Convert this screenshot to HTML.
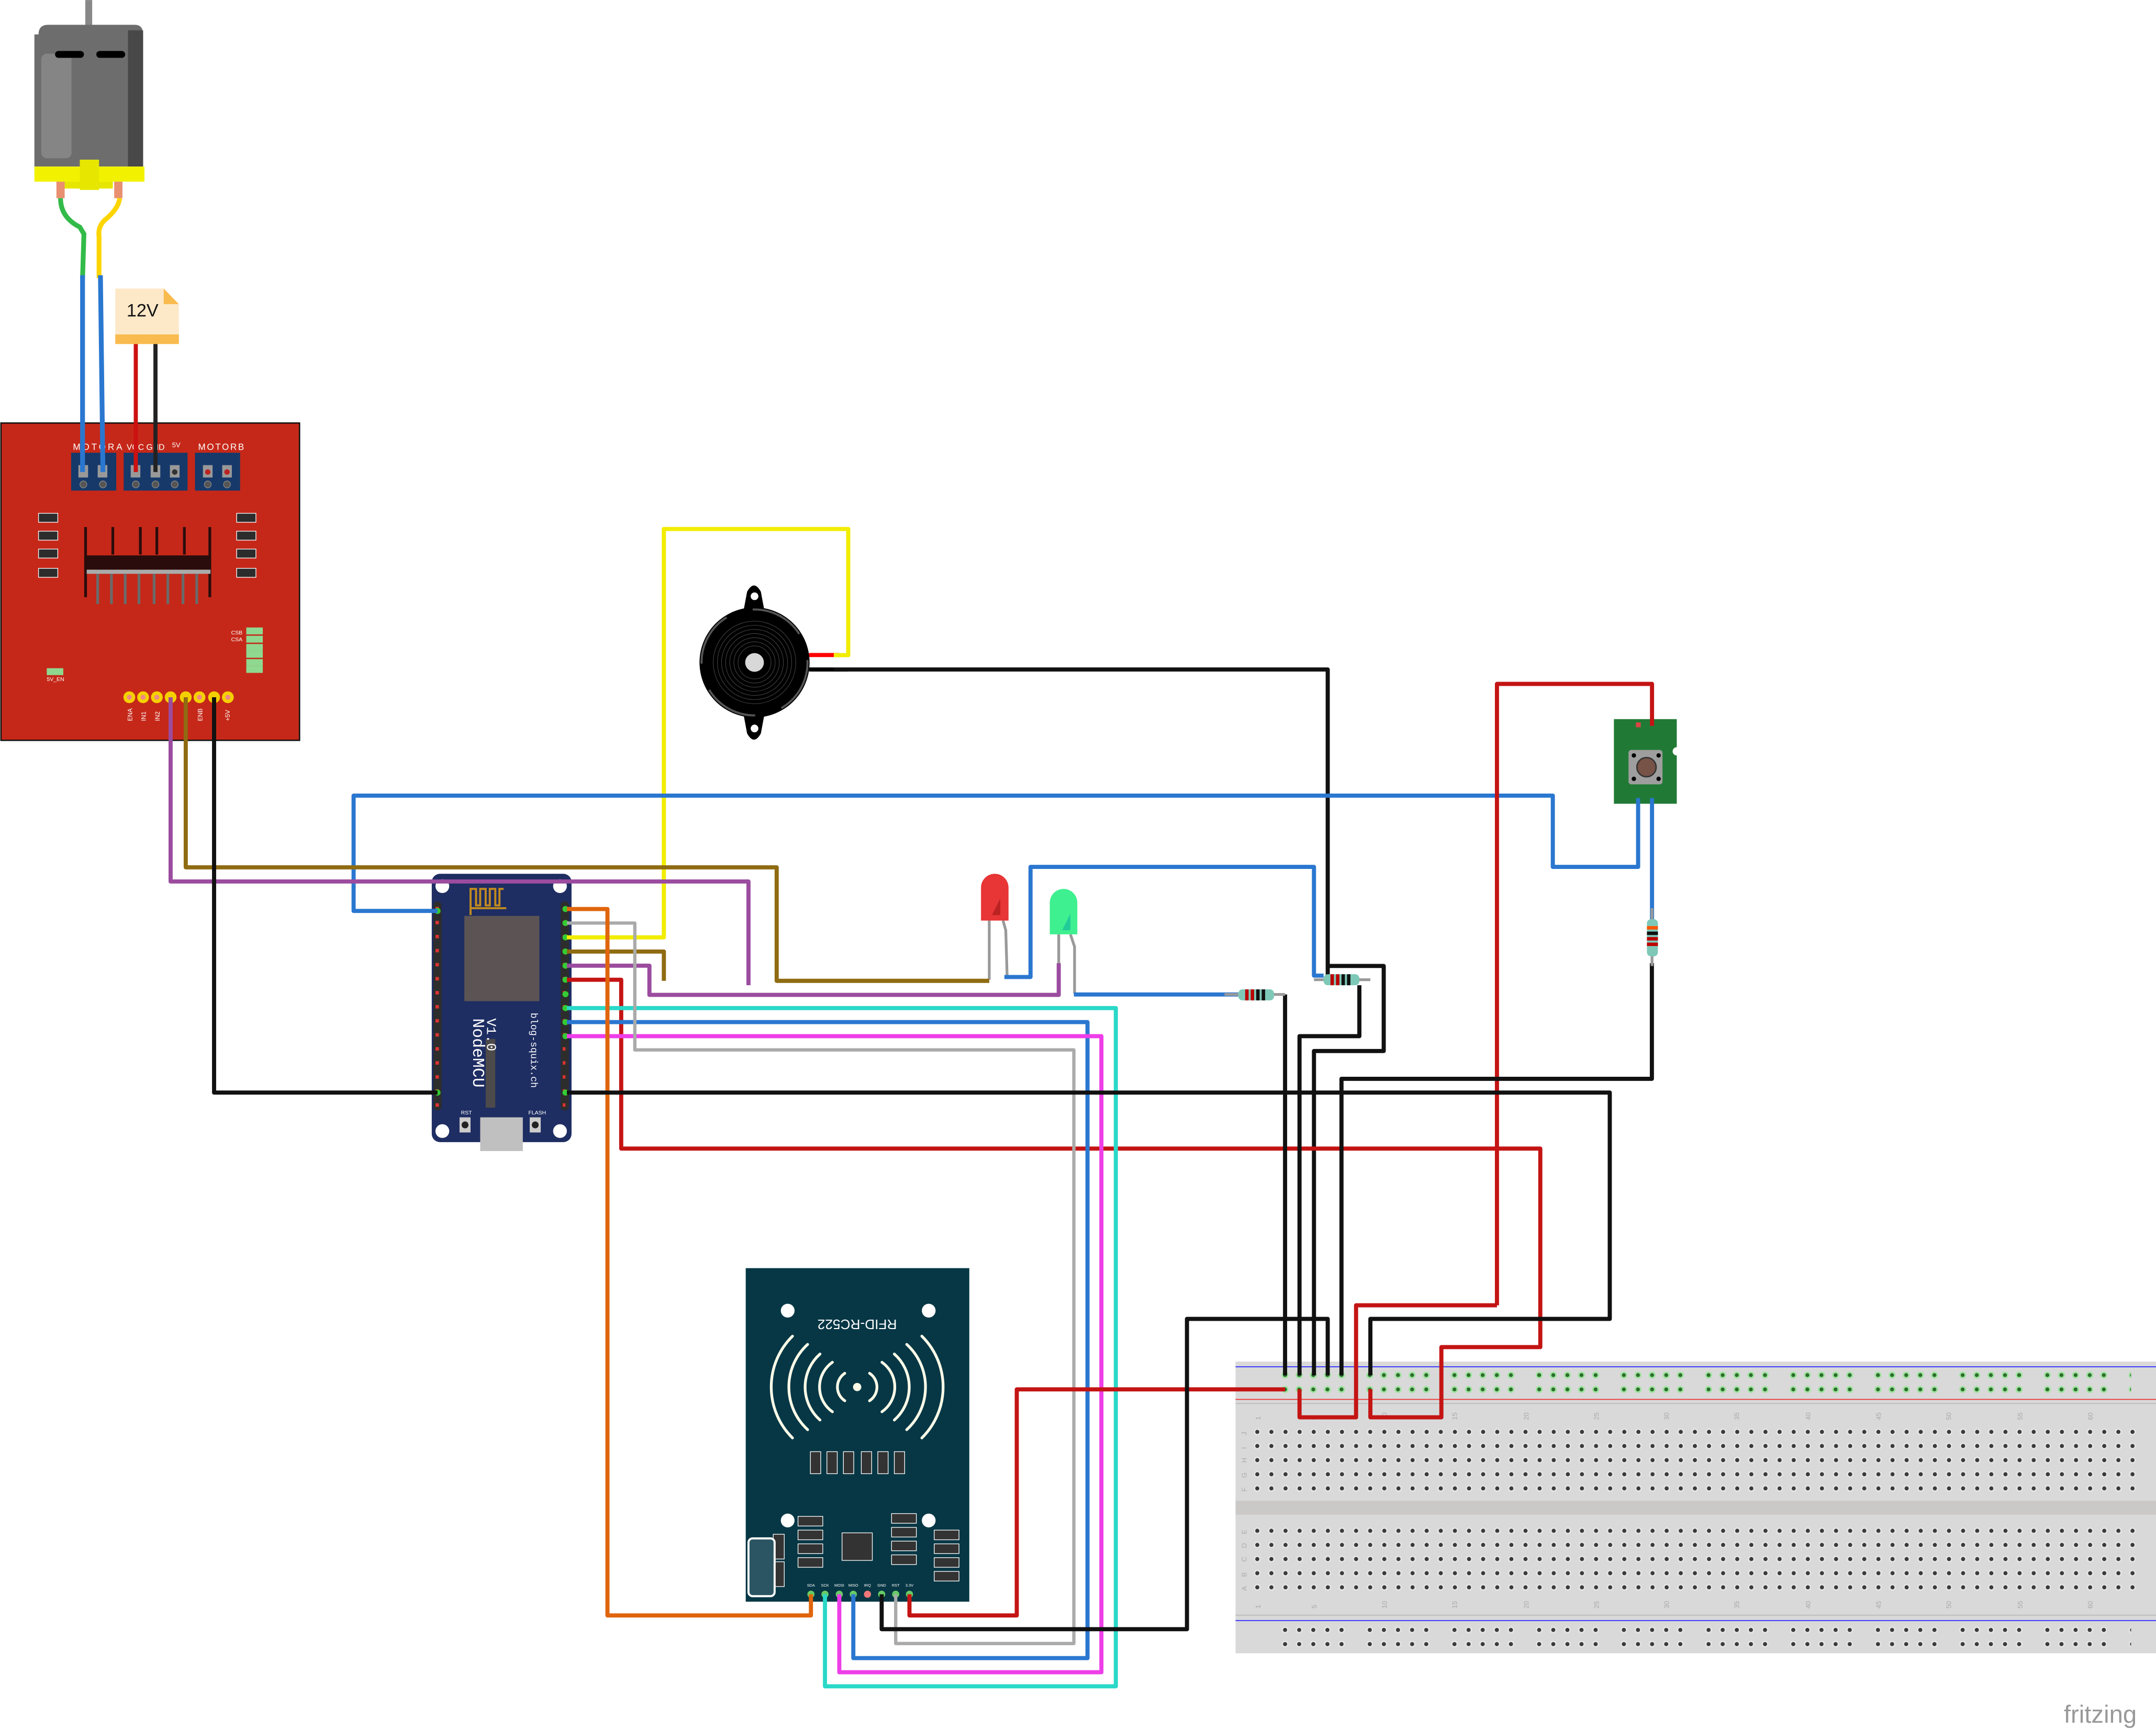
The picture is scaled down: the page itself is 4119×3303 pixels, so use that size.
<!DOCTYPE html>
<html><head><meta charset="utf-8"><style>html,body{margin:0;padding:0;background:#fff}svg{display:block}</style></head><body>
<svg width="4119" height="3303" viewBox="0 0 1567 1256.5" xmlns="http://www.w3.org/2000/svg" font-family="Liberation Sans, sans-serif">
<defs>
<pattern id="mh" x="908.67" y="1035.47" width="10.26" height="10.27" patternUnits="userSpaceOnUse"><circle cx="5.13" cy="5.13" r="2.4" fill="#e8e8e8"/><circle cx="5.13" cy="5.13" r="1.5" fill="#3a3a3a"/></pattern>
<pattern id="gr" x="928.87" y="994.2" width="61.56" height="10.4" patternUnits="userSpaceOnUse">
<g fill="#9be39b"><circle cx="5.13" cy="5.13" r="2.5"/><circle cx="15.39" cy="5.13" r="2.5"/><circle cx="25.65" cy="5.13" r="2.5"/><circle cx="35.91" cy="5.13" r="2.5"/><circle cx="46.17" cy="5.13" r="2.5"/></g>
<g fill="#2d6b2d"><circle cx="5.13" cy="5.13" r="1.4"/><circle cx="15.39" cy="5.13" r="1.4"/><circle cx="25.65" cy="5.13" r="1.4"/><circle cx="35.91" cy="5.13" r="1.4"/><circle cx="46.17" cy="5.13" r="1.4"/></g></pattern>
<pattern id="br" x="928.87" y="1179.4" width="61.56" height="10.3" patternUnits="userSpaceOnUse">
<g fill="#e8e8e8"><circle cx="5.13" cy="5.13" r="2.4"/><circle cx="15.39" cy="5.13" r="2.4"/><circle cx="25.65" cy="5.13" r="2.4"/><circle cx="35.91" cy="5.13" r="2.4"/><circle cx="46.17" cy="5.13" r="2.4"/></g>
<g fill="#3a3a3a"><circle cx="5.13" cy="5.13" r="1.5"/><circle cx="15.39" cy="5.13" r="1.5"/><circle cx="25.65" cy="5.13" r="1.5"/><circle cx="35.91" cy="5.13" r="1.5"/><circle cx="46.17" cy="5.13" r="1.5"/></g></pattern>
<pattern id="np" x="316" y="655" width="4" height="10.2" patternUnits="userSpaceOnUse"><rect x="0.5" y="4" width="2.5" height="2.5" fill="#d33"/></pattern>
</defs>
<rect width="1567" height="1257" fill="#fff"/>

<!-- breadboard -->
<rect x="898" y="989.5" width="669" height="212" fill="#d9d9d9"/>
<line x1="898" y1="993.3" x2="1567" y2="993.3" stroke="#33f" stroke-width="0.7"/>
<line x1="898" y1="1017" x2="1567" y2="1017" stroke="#e33" stroke-width="0.7"/>
<line x1="898" y1="1020" x2="1567" y2="1020" stroke="#bbb" stroke-width="0.7"/>
<rect x="898" y="1090.7" width="669" height="10.1" fill="#cbc9c8"/>
<line x1="898" y1="1173.8" x2="1567" y2="1173.8" stroke="#bbb" stroke-width="0.7"/>
<line x1="898" y1="1177.7" x2="1567" y2="1177.7" stroke="#33f" stroke-width="0.7"/>
<rect x="928.87" y="994.2" width="620" height="20.8" fill="url(#gr)"/>
<rect x="908.67" y="1035.47" width="646" height="51.35" fill="url(#mh)"/>
<rect x="908.67" y="1107.27" width="646" height="51.35" fill="url(#mh)"/>
<rect x="928.87" y="1179.4" width="620" height="20.6" fill="url(#br)"/>
<g font-size="5" fill="#aaa"><text x="906" y="1043" transform="rotate(-90 906 1043)">J</text><text x="906" y="1053" transform="rotate(-90 906 1053)">I</text><text x="906" y="1063" transform="rotate(-90 906 1063)">H</text><text x="906" y="1074" transform="rotate(-90 906 1074)">G</text><text x="906" y="1084" transform="rotate(-90 906 1084)">F</text><text x="906" y="1115" transform="rotate(-90 906 1115)">E</text><text x="906" y="1125" transform="rotate(-90 906 1125)">D</text><text x="906" y="1135" transform="rotate(-90 906 1135)">C</text><text x="906" y="1146" transform="rotate(-90 906 1146)">B</text><text x="906" y="1156" transform="rotate(-90 906 1156)">A</text></g>
<g font-size="5" fill="#aaa"><text x="916" y="1032" transform="rotate(-90 916 1032)">1</text><text x="957" y="1032" transform="rotate(-90 957 1032)">5</text><text x="1008" y="1032" transform="rotate(-90 1008 1032)">10</text><text x="1059" y="1032" transform="rotate(-90 1059 1032)">15</text><text x="1111" y="1032" transform="rotate(-90 1111 1032)">20</text><text x="1162" y="1032" transform="rotate(-90 1162 1032)">25</text><text x="1213" y="1032" transform="rotate(-90 1213 1032)">30</text><text x="1264" y="1032" transform="rotate(-90 1264 1032)">35</text><text x="1316" y="1032" transform="rotate(-90 1316 1032)">40</text><text x="1367" y="1032" transform="rotate(-90 1367 1032)">45</text><text x="1418" y="1032" transform="rotate(-90 1418 1032)">50</text><text x="1470" y="1032" transform="rotate(-90 1470 1032)">55</text><text x="1521" y="1032" transform="rotate(-90 1521 1032)">60</text>
<text x="916" y="1169" transform="rotate(-90 916 1169)">1</text><text x="957" y="1169" transform="rotate(-90 957 1169)">5</text><text x="1008" y="1169" transform="rotate(-90 1008 1169)">10</text><text x="1059" y="1169" transform="rotate(-90 1059 1169)">15</text><text x="1111" y="1169" transform="rotate(-90 1111 1169)">20</text><text x="1162" y="1169" transform="rotate(-90 1162 1169)">25</text><text x="1213" y="1169" transform="rotate(-90 1213 1169)">30</text><text x="1264" y="1169" transform="rotate(-90 1264 1169)">35</text><text x="1316" y="1169" transform="rotate(-90 1316 1169)">40</text><text x="1367" y="1169" transform="rotate(-90 1367 1169)">45</text><text x="1418" y="1169" transform="rotate(-90 1418 1169)">50</text><text x="1470" y="1169" transform="rotate(-90 1470 1169)">55</text><text x="1521" y="1169" transform="rotate(-90 1521 1169)">60</text></g>

<!-- motor -->
<rect x="62" y="0" width="5" height="19" fill="#888"/>
<path d="M28 25 Q28 18 35 18 H98 Q104 18 104 25 V121 H25 V25Z" fill="#6d6d6d"/>
<rect x="93" y="22" width="11" height="99" fill="#484848"/>
<rect x="30" y="39" width="22" height="76" rx="4" fill="#858585"/>
<rect x="40" y="37" width="21" height="5" rx="2.5" fill="#000"/><rect x="70" y="37" width="21" height="5" rx="2.5" fill="#000"/>
<rect x="25" y="121" width="80" height="11" fill="#f2f200"/><rect x="58" y="116" width="14" height="22" fill="#e6e600"/><rect x="47" y="132" width="35" height="5" fill="#e6e600"/>
<rect x="41" y="132" width="6" height="12" fill="#e89070"/><rect x="83" y="132" width="6" height="12" fill="#e89070"/>

<!-- battery -->
<path d="M83.8 209.7 H119 L130 221 V250 H83.8Z" fill="#fde8c8"/><path d="M119 209.7 L130 221 H119Z" fill="#f9bb4e"/>
<rect x="83.8" y="243" width="46.2" height="7" fill="#f9bb4e"/>
<text x="92" y="230" font-size="13" fill="#111">12V</text>

<!-- motor driver -->
<rect x="0.7" y="307.4" width="217" height="230.6" fill="#c52819" stroke="#111" stroke-width="1"/>
<text x="53" y="327" font-size="6.5" fill="#fff" letter-spacing="1.5">MOTORA</text><text x="92" y="327" font-size="6" fill="#fff">VCC GND</text><text x="125" y="325" font-size="5" fill="#fff">5V</text><text x="144" y="327" font-size="6.5" fill="#fff" letter-spacing="1">MOTORB</text>
<g fill="#16396a"><rect x="51.7" y="329" width="32.8" height="27.5"/><rect x="89.9" y="329" width="46.4" height="27.5"/><rect x="141.7" y="329" width="32.8" height="27.5"/></g>
<g fill="#999"><rect x="57" y="338" width="7" height="9"/><rect x="71" y="338" width="7" height="9"/><rect x="95" y="338" width="7" height="9"/><rect x="109.5" y="338" width="7" height="9"/><rect x="123.5" y="338" width="7" height="9"/><rect x="147.5" y="338" width="7" height="9"/><rect x="161.5" y="338" width="7" height="9"/></g>
<g fill="#555" stroke="#888" stroke-width="0.5"><circle cx="60.6" cy="352" r="2.5"/><circle cx="74.8" cy="352" r="2.5"/><circle cx="98.7" cy="352" r="2.5"/><circle cx="113" cy="352" r="2.5"/><circle cx="127" cy="352" r="2.5"/><circle cx="151" cy="352" r="2.5"/><circle cx="165" cy="352" r="2.5"/></g>
<g fill="#b22"><circle cx="151" cy="343" r="2"/><circle cx="165" cy="343" r="2"/></g><circle cx="127" cy="343" r="2" fill="#333"/>
<g fill="#2a0c0c"><rect x="61.2" y="383" width="2" height="51"/><rect x="81" y="383" width="2" height="20"/><rect x="101" y="383" width="2" height="20"/><rect x="113" y="383" width="2" height="20"/><rect x="133" y="383" width="2" height="20"/><rect x="151.5" y="383" width="2" height="51"/><rect x="61.2" y="403.6" width="92.2" height="10.4"/></g>
<rect x="63" y="414" width="90" height="3" fill="#aaa"/>
<g fill="#6a6a6a"><rect x="70" y="417" width="2" height="22"/><rect x="80" y="417" width="2" height="22"/><rect x="90" y="417" width="2" height="22"/><rect x="100" y="417" width="2" height="22"/><rect x="111" y="417" width="2" height="22"/><rect x="121" y="417" width="2" height="22"/><rect x="132" y="417" width="2" height="22"/><rect x="142" y="417" width="2" height="22"/></g>
<g fill="#2c2c2c" stroke="#fff" stroke-width="0.5"><rect x="28" y="373" width="14" height="6.5"/><rect x="28" y="386" width="14" height="6.5"/><rect x="28" y="399" width="14" height="6.5"/><rect x="28" y="413" width="14" height="6.5"/><rect x="172" y="373" width="14" height="6.5"/><rect x="172" y="386" width="14" height="6.5"/><rect x="172" y="399" width="14" height="6.5"/><rect x="172" y="413" width="14" height="6.5"/></g>
<g fill="#8fd88f"><rect x="179" y="456" width="12" height="5"/><rect x="179" y="462" width="12" height="5"/><rect x="179" y="468" width="12" height="5"/><rect x="179" y="473" width="12" height="5"/><rect x="179" y="479" width="12" height="5"/><rect x="179" y="484" width="12" height="5"/><rect x="34" y="485.6" width="12" height="5"/></g>
<text x="168" y="461" font-size="4" fill="#fff">CSB</text><text x="168" y="466" font-size="4" fill="#fff">CSA</text><text x="34" y="495" font-size="4" fill="#fff">5V_EN</text>
<g fill="#f5d000"><circle cx="94" cy="506.7" r="4.3"/><circle cx="104" cy="506.7" r="4.3"/><circle cx="114" cy="506.7" r="4.3"/><circle cx="124" cy="506.7" r="4.3"/><circle cx="135" cy="506.7" r="4.3"/><circle cx="145" cy="506.7" r="4.3"/><circle cx="155.6" cy="506.7" r="4.3"/><circle cx="165.6" cy="506.7" r="4.3"/></g>
<g fill="#e88"><circle cx="94" cy="506.7" r="1.8"/><circle cx="104" cy="506.7" r="1.8"/><circle cx="114" cy="506.7" r="1.8"/><circle cx="145" cy="506.7" r="1.8"/><circle cx="165.6" cy="506.7" r="1.8"/></g>
<g font-size="4.5" fill="#fff"><text x="96" y="524" transform="rotate(-90 96 524)">ENA</text><text x="106" y="524" transform="rotate(-90 106 524)">IN1</text><text x="116" y="524" transform="rotate(-90 116 524)">IN2</text><text x="147" y="524" transform="rotate(-90 147 524)">ENB</text><text x="167" y="524" transform="rotate(-90 167 524)">+5V</text></g>

<!-- buzzer -->
<path d="M540 446 L543 430 Q548 421 553 430 L556 446Z M540 517 L543 533 Q548 542 553 533 L556 517Z" fill="#000"/>
<circle cx="548.4" cy="433.3" r="2.8" fill="#fff"/><circle cx="548.4" cy="529.4" r="2.8" fill="#fff"/>
<line x1="588" y1="476" x2="610" y2="476" stroke="#f00" stroke-width="3"/>
<line x1="588" y1="486.5" x2="616" y2="486.5" stroke="#000" stroke-width="3"/>
<circle cx="548.4" cy="481.4" r="40" fill="#000"/>
<circle cx="548.4" cy="481.4" r="38.5" fill="none" stroke="#555" stroke-width="1.5" stroke-dasharray="40 20"/>
<g fill="none" stroke="#444" stroke-width="0.4"><circle cx="548.4" cy="481.4" r="30"/><circle cx="548.4" cy="481.4" r="27"/><circle cx="548.4" cy="481.4" r="24"/><circle cx="548.4" cy="481.4" r="21"/><circle cx="548.4" cy="481.4" r="18"/><circle cx="548.4" cy="481.4" r="15"/><circle cx="548.4" cy="481.4" r="12"/></g>
<circle cx="548.4" cy="481.4" r="6.8" fill="#d8d8d8"/>

<!-- LEDs -->
<polyline points="719,669 719,712" stroke="#999" stroke-width="2" fill="none"/><polyline points="729,669 731,676 732,710" stroke="#999" stroke-width="2" fill="none"/>
<path d="M713 669 V645 a10 10 0 0 1 20 0 V669z" fill="#e83535"/><path d="M727 653 v12 l-6 0z" fill="#b22"/>
<polyline points="769.5,679 769.5,722" stroke="#999" stroke-width="2" fill="none"/><polyline points="778,679 781,688 781,722" stroke="#999" stroke-width="2" fill="none"/>
<path d="M763 679 V656 a10 10 0 0 1 20 0 V679z" fill="#3ef08f"/><path d="M778 664 v12 l-6 0z" fill="#2c9"/>

<!-- button -->
<rect x="1173" y="522.6" width="45.7" height="61.5" fill="#207a35"/>
<rect x="1183.6" y="545" width="24.7" height="25" rx="2" fill="#9e9e9e"/>
<circle cx="1196.7" cy="557.5" r="7" fill="#765247" stroke="#333" stroke-width="1"/>
<g fill="#000"><circle cx="1187.5" cy="549" r="1.6"/><circle cx="1205.5" cy="549" r="1.6"/><circle cx="1187.5" cy="566" r="1.6"/><circle cx="1205.5" cy="566" r="1.6"/></g>
<rect x="1189" y="525" width="3.5" height="3.5" fill="#d44"/>
<circle cx="1218.7" cy="546" r="3" fill="#fff"/>

<!-- NodeMCU -->
<rect x="313.8" y="635" width="101.6" height="195" rx="6" fill="#1e2d62"/>
<g fill="#2d2d2d"><rect x="315" y="655" width="6" height="152" rx="3"/><rect x="407.5" y="655" width="6" height="152" rx="3"/></g>
<rect x="316.5" y="657" width="3.5" height="148" fill="url(#np)"/><rect x="409" y="657" width="3.5" height="148" fill="url(#np)"/>
<rect x="337.5" y="665.6" width="54.5" height="62" fill="#5c5454"/>
<path d="M342 665 V646 h4 v12 h3 v-12 h4 v12 h3 v-12 h4 v12 h3 v-12 h3" stroke="#c08a20" stroke-width="1.5" fill="none"/>
<line x1="342" y1="660" x2="368" y2="660" stroke="#c08a20" stroke-width="1.5"/>
<rect x="353" y="755" width="7" height="50" fill="#4c4a4a"/>
<rect x="349" y="812" width="31" height="24.5" fill="#c0c0c0"/>
<circle cx="321.5" cy="644" r="5" fill="#fff"/><circle cx="407" cy="644" r="5" fill="#fff"/><circle cx="321.5" cy="822" r="5" fill="#fff"/><circle cx="407" cy="822" r="5" fill="#fff"/>
<rect x="334" y="812" width="8" height="11" fill="#ccc"/><rect x="385" y="812" width="8" height="11" fill="#ccc"/><circle cx="338" cy="817.5" r="2.5" fill="#222"/><circle cx="389" cy="817.5" r="2.5" fill="#222"/>
<text x="335" y="810" font-size="4" fill="#fff">RST</text><text x="384" y="810" font-size="4" fill="#fff">FLASH</text>
<text x="344" y="740" font-size="12" fill="#fff" font-family="Liberation Mono, monospace" transform="rotate(90 344 740)">NodeMCU</text>
<text x="354" y="740" font-size="10" fill="#fff" font-family="Liberation Mono, monospace" transform="rotate(90 354 740)">V1.0</text>
<text x="386" y="736" font-size="7" fill="#fff" font-family="Liberation Mono, monospace" transform="rotate(90 386 736)">blog-squix.ch</text>
<g fill="#3c3"><circle cx="411" cy="660.6" r="2.2"/><circle cx="411" cy="670.8" r="2.2"/><circle cx="411" cy="681.2" r="2.2"/><circle cx="411" cy="691.5" r="2.2"/><circle cx="411" cy="701.8" r="2.2"/><circle cx="411" cy="712" r="2.2"/><circle cx="411" cy="722.5" r="2.2"/><circle cx="411" cy="732.6" r="2.2"/><circle cx="411" cy="742.8" r="2.2"/><circle cx="411" cy="753" r="2.2"/><circle cx="411" cy="794" r="2.2"/><circle cx="318" cy="662" r="2.2"/><circle cx="318" cy="794" r="2.2"/></g>

<!-- RFID -->
<rect x="542" y="921.6" width="162.5" height="242.4" fill="#073745"/>
<circle cx="572.5" cy="952.5" r="5" fill="#fff"/><circle cx="675" cy="952.5" r="5" fill="#fff"/><circle cx="572.5" cy="1105" r="5" fill="#fff"/><circle cx="675" cy="1105" r="5" fill="#fff"/>
<text x="623" y="966" font-size="10" fill="#fff" text-anchor="middle" transform="rotate(180 623 962.5)">RFID-RC522</text>
<g fill="none" stroke="#fdfbe8" stroke-width="2" stroke-linecap="round"><circle cx="623" cy="1008" r="2" fill="#fdfbe8"/>
<path d="M614 998 a12 12 0 0 0 0 20 M605 990 a22 22 0 0 0 0 36 M596 984 a32 32 0 0 0 0 48 M587 977 a42 42 0 0 0 0 62 M576 971 a52 52 0 0 0 0 74 M632 998 a12 12 0 0 1 0 20 M641 990 a22 22 0 0 1 0 36 M650 984 a32 32 0 0 1 0 48 M659 977 a42 42 0 0 1 0 62 M670 971 a52 52 0 0 1 0 74"/></g>
<g fill="#333" stroke="#fff" stroke-width="0.5"><rect x="589" y="1055" width="7.5" height="16"/><rect x="601" y="1055" width="7.5" height="16"/><rect x="613" y="1055" width="7.5" height="16"/><rect x="626" y="1055" width="7.5" height="16"/><rect x="638" y="1055" width="7.5" height="16"/><rect x="650" y="1055" width="7.5" height="16"/>
<rect x="580" y="1102" width="18" height="7"/><rect x="580" y="1112" width="18" height="7"/><rect x="580" y="1122" width="18" height="7"/><rect x="580" y="1132" width="18" height="7"/>
<rect x="648" y="1100" width="18" height="7"/><rect x="648" y="1110" width="18" height="7"/><rect x="648" y="1120" width="18" height="7"/><rect x="648" y="1130" width="18" height="7"/>
<rect x="679" y="1112" width="18" height="7"/><rect x="679" y="1122" width="18" height="7"/><rect x="679" y="1132" width="18" height="7"/><rect x="679" y="1142" width="18" height="7"/>
<rect x="562" y="1115" width="8" height="18"/><rect x="562" y="1135" width="8" height="18"/><rect x="612" y="1114" width="22" height="20"/></g>
<rect x="544" y="1118" width="19" height="42" rx="3" fill="#2c5563" stroke="#fff" stroke-width="1.5"/>
<g font-size="2.8" fill="#fff" text-anchor="middle"><text x="589.4" y="1153">SDA</text><text x="599.6" y="1153">SCK</text><text x="610" y="1153">MOSI</text><text x="620.2" y="1153">MISO</text><text x="630.5" y="1153">IRQ</text><text x="640.8" y="1153">GND</text><text x="651" y="1153">RST</text><text x="661" y="1153">3.3V</text></g>
<g fill="#6c6"><circle cx="589.4" cy="1158.6" r="2.6"/><circle cx="599.6" cy="1158.6" r="2.6"/><circle cx="610" cy="1158.6" r="2.6"/><circle cx="620.2" cy="1158.6" r="2.6"/><circle cx="640.8" cy="1158.6" r="2.6"/><circle cx="651" cy="1158.6" r="2.6"/><circle cx="661" cy="1158.6" r="2.6"/></g>
<circle cx="630.5" cy="1158.6" r="2.6" fill="#e77"/>

<!-- wires (on top) -->
<path d="M44 144 Q44 158 58 165 L61 170 L60 202" stroke="#33bb4a" stroke-width="3.5" fill="none"/>
<path d="M87 144 Q86 152 76 160 Q71 165 72 172 L72 202" stroke="#fcd500" stroke-width="3.5" fill="none"/>
<g stroke="#2a77d0" stroke-width="3.5" fill="none"><line x1="60" y1="200" x2="60" y2="343"/><line x1="73" y1="200" x2="74.8" y2="343"/></g>
<line x1="98.7" y1="250" x2="98.7" y2="343" stroke="#c11" stroke-width="3"/><line x1="113" y1="250" x2="113" y2="343" stroke="#222" stroke-width="3"/>
<g fill="none" stroke-width="3" stroke-linejoin="round">
<path d="M412 681.2 H482.5 V384.4 H616.5 V476.1 H606" stroke="#f2ec00"/>
<path d="M606 486.5 H965 V702 H1005.7 V763.8 H955 V999.5" stroke="#111"/>
<path d="M965 702 V712 H988" stroke="#111"/>
<path d="M318 662 H257 V578.2 H1128.6 V630 H1190.6 V580" stroke="#2a77d0"/>
<path d="M1200.7 580 V669" stroke="#2a77d0"/>
<path d="M135 506.7 V630.3 H564.5 V712.8 H719" stroke="#8f6b12"/>
<path d="M412 691.5 H482.5 V712.8" stroke="#8f6b12"/>
<path d="M124 506.7 V640.6 H544 V716" stroke="#9b4c9f"/>
<path d="M412 701.8 H472 V723 H769.5 V700" stroke="#9b4c9f"/>
<path d="M155.6 506.7 V794 H318" stroke="#111"/>
<path d="M730 710 H749 V630 H955 V709 H962" stroke="#2a77d0"/>
<path d="M780.5 722.7 H900" stroke="#2a77d0"/>
<path d="M412 712 H451.5 V834.7 H1119.5 V979 H1047.6 V1030 H996 V1009.6" stroke="#c41414"/>
<path d="M1088 948.6 V497 H1200.7 V527.5" stroke="#c41414"/>
<path d="M1088 948.6 H985.6 V1030 H944.5 V1009.6" stroke="#c41414"/>
<path d="M412 732.6 H811 V1225.5 H599.6 V1158.6" stroke="#2ad8c8"/>
<path d="M412 742.8 H790.4 V1205 H620.2 V1158.6" stroke="#2a77d0"/>
<path d="M412 753 H800.5 V1215.3 H610 V1158.6" stroke="#ee3ee8"/>
<path d="M412 670.8 H461.4 V763 H780.5 V1194.4 H651 V1158.6" stroke="#aaa" stroke-width="2.4"/>
<path d="M412 660.6 H441.5 V1174 H589.4 V1158.6" stroke="#e0650c"/>
<path d="M412 794 H1170 V958.5 H996 V999.5" stroke="#111"/>
<path d="M1200.6 700 V784 H975 V999.5" stroke="#111"/>
<path d="M988 716 V753 H944.5 V999.5" stroke="#111"/>
<path d="M934 722.7 V999.5" stroke="#111"/>
<path d="M661 1158.6 V1174 H739 V1009.7 H934" stroke="#c41414"/>
<path d="M640.8 1158.6 V1184 H862.7 V958.5 H965 V999.5" stroke="#111"/>
</g>

<!-- resistors -->
<g>
<line x1="890" y1="722.7" x2="934" y2="722.7" stroke="#999" stroke-width="2"/>
<rect x="900" y="719" width="26" height="8" rx="3" fill="#7ec8b8"/>
<g fill="#b00"><rect x="905" y="719" width="2.5" height="8"/><rect x="909" y="719" width="2.5" height="8"/></g><g fill="#111"><rect x="913" y="719" width="2.5" height="8"/><rect x="917" y="719" width="2.5" height="8"/></g>
<line x1="955" y1="712" x2="996" y2="712" stroke="#999" stroke-width="2"/>
<rect x="962" y="708" width="26" height="8" rx="3" fill="#7ec8b8"/>
<g fill="#b00"><rect x="967" y="708" width="2.5" height="8"/><rect x="971" y="708" width="2.5" height="8"/></g><g fill="#111"><rect x="975" y="708" width="2.5" height="8"/><rect x="979" y="708" width="2.5" height="8"/></g>
<line x1="1200.7" y1="660" x2="1200.7" y2="702" stroke="#999" stroke-width="2"/>
<rect x="1197" y="668" width="8" height="27" rx="3" fill="#7ec8b8"/>
<rect x="1197" y="673" width="8" height="2.5" fill="#f50"/><rect x="1197" y="677" width="8" height="2.5" fill="#111"/><rect x="1197" y="681" width="8" height="2.5" fill="#b00"/><rect x="1197" y="685" width="8" height="2.5" fill="#b00"/>
</g>
<text x="1500" y="1252" font-size="18" fill="#999">fritzing</text>
</svg>
</body></html>
